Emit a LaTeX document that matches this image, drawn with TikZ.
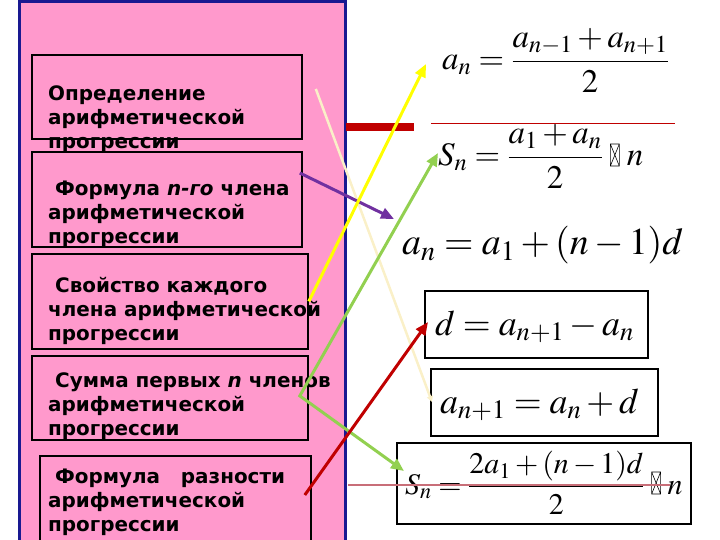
\documentclass[tikz,border=0pt]{standalone}
\usepackage{amsmath}
\usepackage{mathptmx}
\usepackage[no-math]{fontspec}
\newfontfamily\labelfont{DejaVu Sans}
\usepackage{tikz}
\usetikzlibrary{positioning,calc,arrows.meta}

\definecolor{panelpink}{RGB}{255,153,204}
\definecolor{panelblue}{RGB}{25,25,145}
\definecolor{arrowyellow}{RGB}{255,255,0}
\definecolor{arrowpurple}{RGB}{112,48,160}
\definecolor{arrowgreen}{RGB}{146,208,80}
\definecolor{arrowred}{RGB}{192,0,0}
\definecolor{arrowcream}{RGB}{250,240,200}
\definecolor{linered}{RGB}{200,110,120}

% box that stands for the missing glyph
\newcommand{\nullbox}{\mathord{\;\tikz[baseline=0pt,x=1bp,y=1bp,line width=0.6bp]{\draw (0,0) rectangle (9,22) (0,0) -- (9,22) (0,22) -- (9,0);}\;}}

\begin{document}
\begin{tikzpicture}[x=1bp,y=-1bp,
    card/.style={draw=black, line width=1.8bp, inner sep=0pt, anchor=north west},
    cardtext/.style={font=\labelfont\bfseries\fontsize{20}{24}\selectfont, align=left, anchor=north west, inner sep=0pt},
    formula/.style={anchor=base west, inner sep=0pt},
    formulabox/.style={draw=black, line width=2.8bp},
    link/.style={line width=3bp, -{Triangle[length=13bp,width=11bp]}}]
    \useasboundingbox (0,0) rectangle (720,540);

    % Pink panel
    \draw[fill=panelpink, draw=panelblue, line width=3bp] (19.5,1.5) rectangle (345.5,560);

    % Left boxes
    \node[card, minimum width=270bp, minimum height=84bp] (box1) at (31,54) {};
    \node[card, minimum width=270bp, minimum height=95bp] (box2) at (31,151) {};
    \node[card, minimum width=276bp, minimum height=95bp] (box3) at (31,253) {};
    \node[card, minimum width=276bp, minimum height=84bp] (box4) at (31,355) {};
    \node[card, minimum width=271bp, minimum height=95bp] (box5) at (39,455) {};

    \node[cardtext] (defn) at (48,86) {Определение\\арифметической\\прогрессии};
    \node[cardtext] (nterm) at (48,181) {\ Формула \textit{n-го} члена\\арифметической\\прогрессии};
    \node[cardtext] (prop) at (48,277) {\ Свойство каждого\\члена арифметической\\прогрессии};
    \node[cardtext] (sumn) at (48,373) {\ Сумма первых \textit{n} членов\\арифметической\\прогрессии};
    \node[cardtext] (diff) at (48,469) {\ Формула\ \ \ разности\\арифметической\\прогрессии};

    % Formulas
    \node[formula, font=\fontsize{33}{40}\selectfont] (avgF) at (442,70) {$\displaystyle a_n=\frac{a_{n-1}+a_{n+1}}{2}$};
    \node[formula, font=\fontsize{33}{40}\selectfont] (sumF) at (438,166) {$\displaystyle S_n=\frac{a_1+a_n}{2}\nullbox n$};
    \node[formula, font=\fontsize{38}{46}\selectfont] (ntermF) at (402,255) {$a_n=a_1+(n-1)d$};
    \node[formula, font=\fontsize{36}{42}\selectfont] (diffF) at (435,335) {$d=a_{n+1}-a_n$};
    \node[formula, font=\fontsize{36}{42}\selectfont] (nextF) at (440,413) {$a_{n+1}=a_n+d$};
    \node[formula, font=\fontsize{30}{36}\selectfont] (sumG) at (405,494) {$\displaystyle S_n=\frac{2a_1+(n-1)d}{2}\nullbox n$};

    \draw[formulabox] (425,291) rectangle (648,358);
    \draw[formulabox] (431,369) rectangle (658,436);
    \draw[formulabox] (397,443) rectangle (691,524);

    % Red rules
    \draw[arrowred, line width=8bp] (346,127) -- (414,127);
    \draw[arrowred, line width=0.8bp] (431,123) -- (675,123);
    \draw[linered, line width=1.2bp] (348,485) -- (670,485);

    % Arrows
    \coordinate (tipA) at (426,64);
    \coordinate (tipS) at (438,153);
    \coordinate (tipN) at (394,219);
    \coordinate (tipD) at (428,322);
    \coordinate (tipX) at (432,402);
    \coordinate (tipB) at (404,471);
    \coordinate (fork) at ($(box4.east)+(-9,-2)$);

    \draw[arrowcream, line width=2.5bp, -{Triangle[length=6bp,width=6bp]}] ($(box1.east)+(13,-8)$) -- (tipX);
    \draw[link, arrowpurple] ($(box2.north east)+(-3,22)$) -- (tipN);
    \draw[link, arrowyellow] (box3.east) -- (tipA);
    \draw[arrowgreen, line width=3bp, line join=miter, {Triangle[length=13bp,width=11bp]}-{Triangle[length=13bp,width=11bp]}] (tipS) -- (fork) -- (tipB);
    \draw[link, arrowred] ($(box5.north east)+(-7,40)$) -- (tipD);
\end{tikzpicture}
\end{document}
